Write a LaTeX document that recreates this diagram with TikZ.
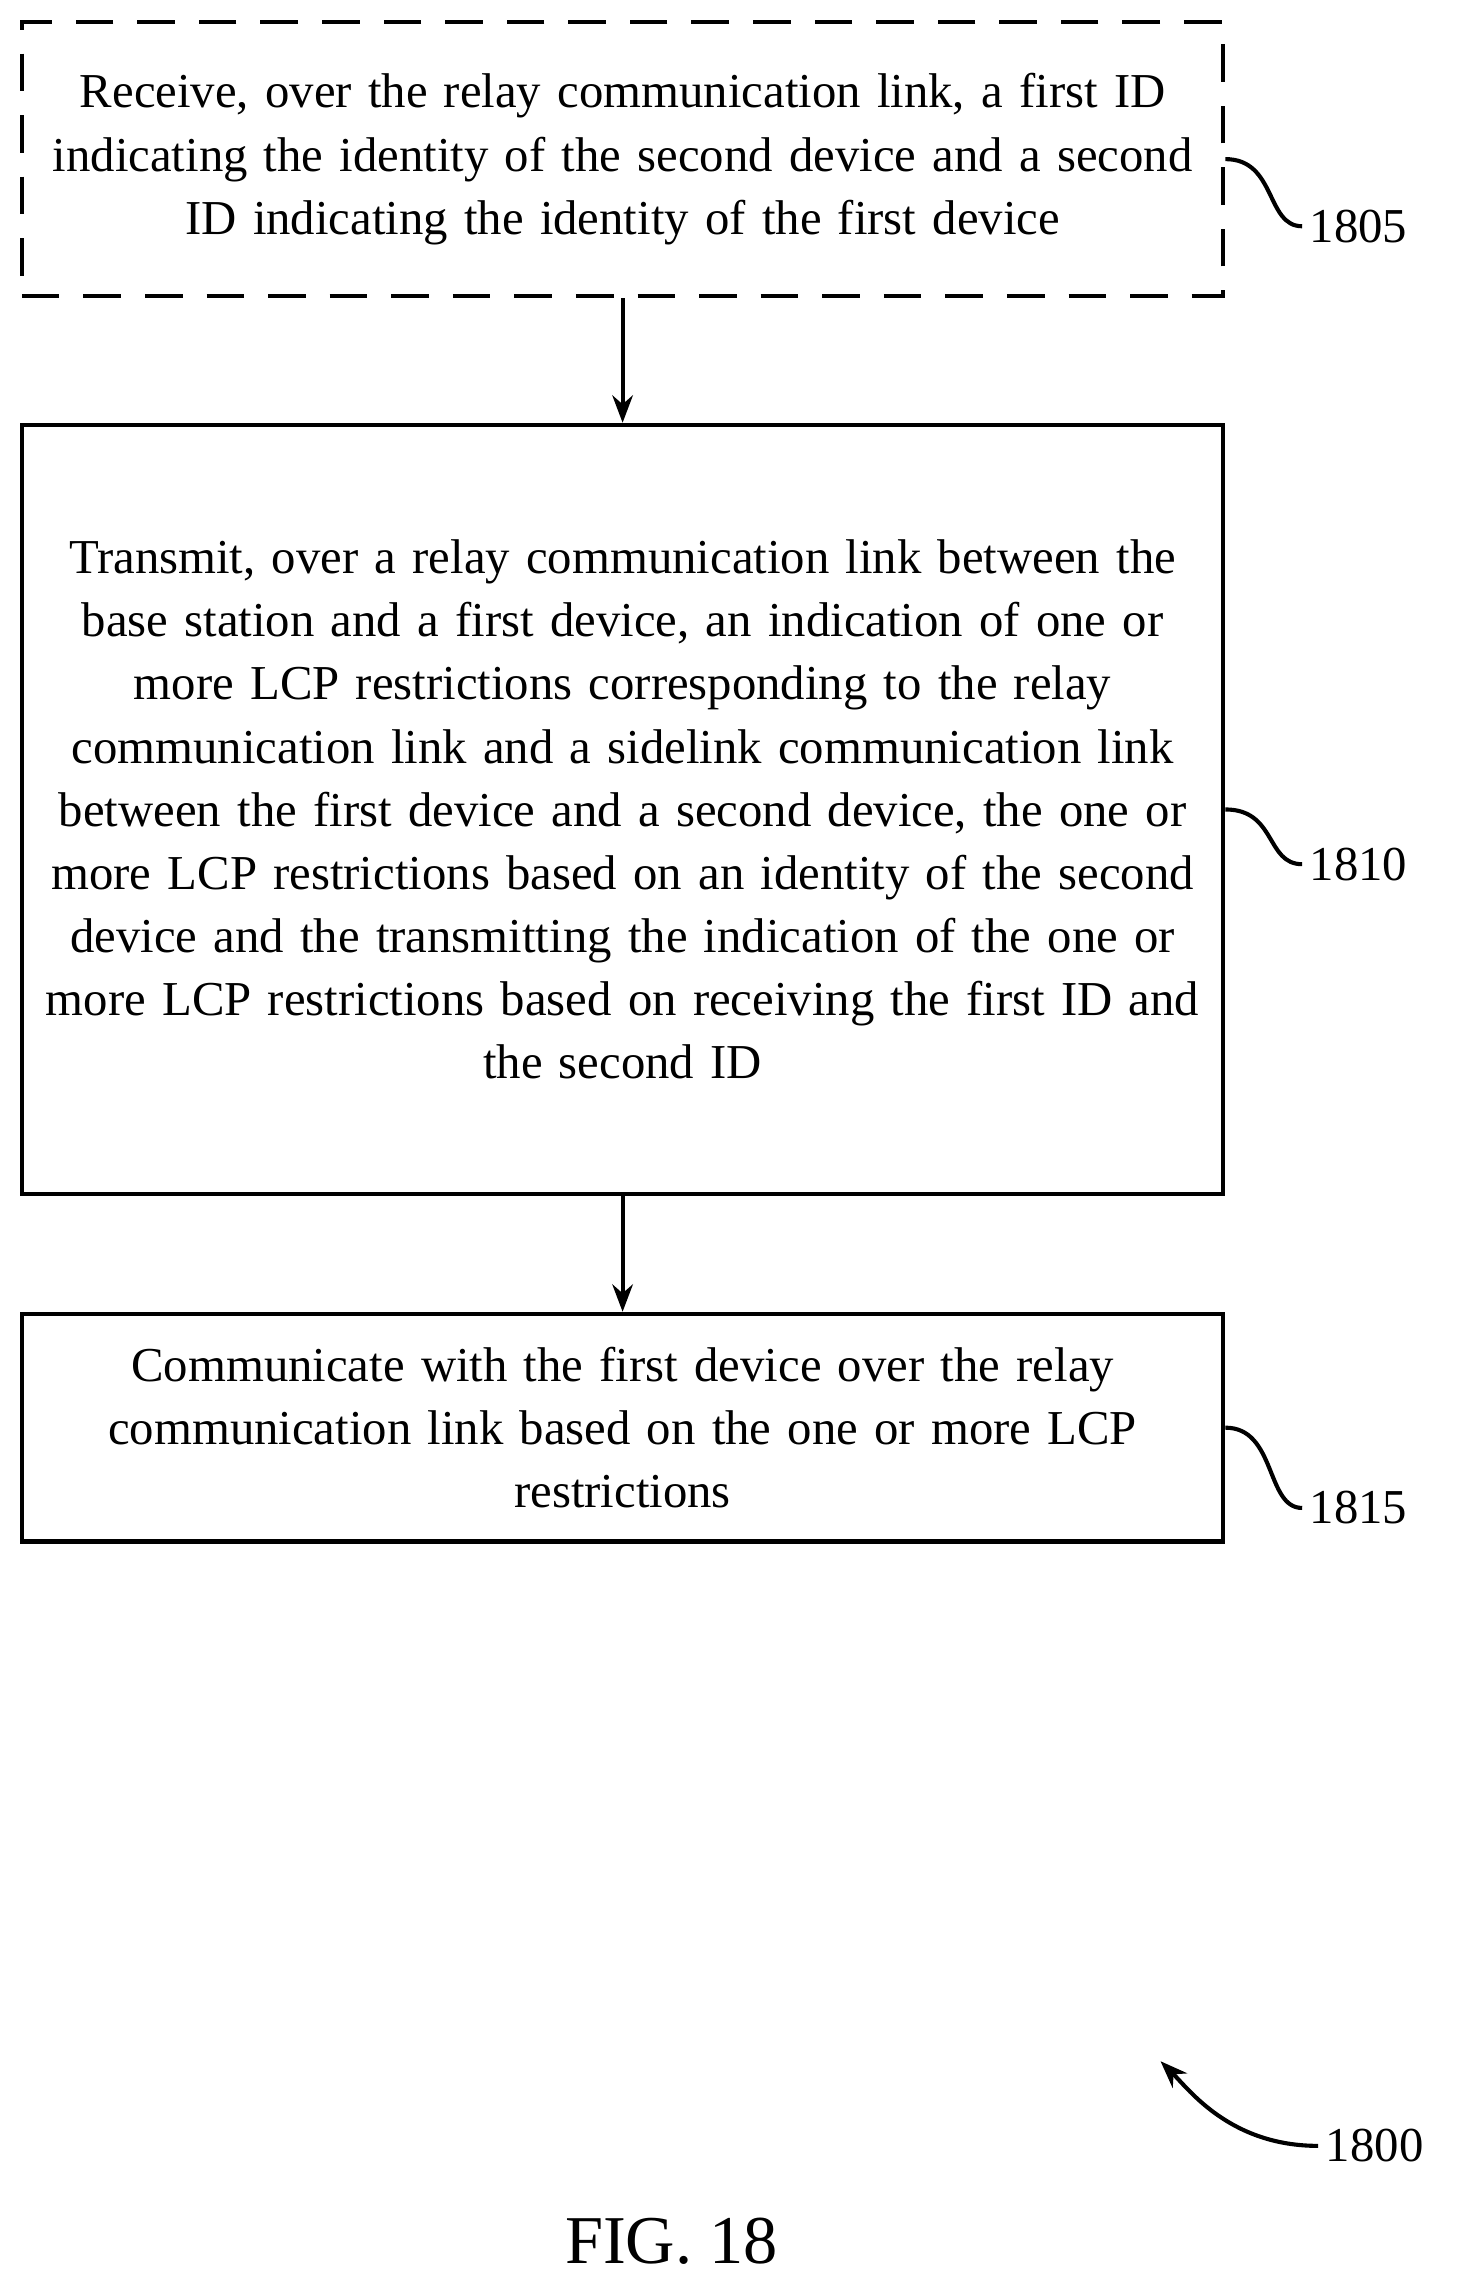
\documentclass[tikz,border=0pt]{standalone}
\usepackage{fontspec}
\setmainfont{Liberation Serif}
\usetikzlibrary{arrows.meta}
\begin{document}
\begin{tikzpicture}[x=0.03cm,y=-0.03cm,
    line width=2.4pt,
    stepbox/.style={draw,minimum width=24.69cm,align=center,text width=24cm,
        font=\fontsize{28.5}{36.9}\selectfont},
    ref label/.style={font=\fontsize{28.5}{34}\selectfont,anchor=west},
    flow arrow/.style={->,>={Stealth[length=16pt,width=12pt]}}]

    \useasboundingbox (0,0) rectangle (1000,1566);

    % Steps
    \node[stepbox,dashed,dash pattern=on 22pt off 14pt,minimum height=5.64cm] (s1805) at (426.5,109)
        {Receive, over the relay communication link, a first ID\\indicating the identity of the second device and a second\\ID indicating the identity of the first device};
    \node[stepbox,minimum height=15.81cm] (s1810) at (426.5,554.5)
        {Transmit, over a relay communication link between the\\base station and a first device, an indication of one or\\more LCP restrictions corresponding to the relay\\communication link and a sidelink communication link\\between the first device and a second device, the one or\\more LCP restrictions based on an identity of the second\\device and the transmitting the indication of the one or\\more LCP restrictions based on receiving the first ID and\\the second ID};
    \node[stepbox,minimum height=4.68cm] (s1815) at (426.5,978)
        {Communicate with the first device over the relay\\communication link based on the one or more LCP\\restrictions};

    \draw[flow arrow] (s1805) -- (s1810);
    \draw[flow arrow] (s1810) -- (s1815);

    % Reference numerals
    \node[ref label] (l1805) at (892,155) {1805};
    \node[ref label] (l1810) at (892,592) {1810};
    \node[ref label] (l1815) at (892,1033) {1815};
    \node[ref label] (l1800) at (903,1470) {1800};
    \coordinate (c1800) at (795,1412);

    \draw (s1805.east) .. controls +(35,0) and +(-25,0) .. (l1805.west);
    \draw (s1810.east) .. controls +(35,0) and +(-25,0) .. (l1810.west);
    \draw (s1815.east) .. controls +(35,0) and +(-25,0) .. (l1815.west);
    \draw[flow arrow] (l1800.west) .. controls +(-60,0) and +(20,20) .. (c1800);

    \node[font=\fontsize{40}{48}\selectfont] (fig) at (460,1535) {FIG. 18};
\end{tikzpicture}
\end{document}
